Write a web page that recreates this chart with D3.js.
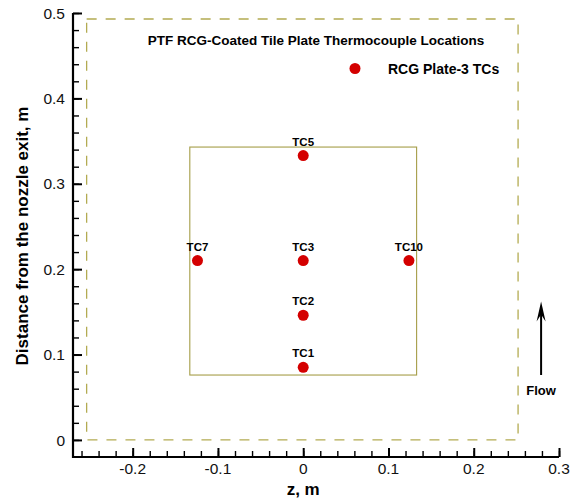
<!DOCTYPE html>
<html>
<head>
<meta charset="utf-8">
<script src="https://cdn.jsdelivr.net/npm/d3@7"></script>
<style>
  body { margin: 0; background: #fff; }
  svg { font-family: "Liberation Sans", Arial, Helvetica, sans-serif; }
</style>
</head>
<body>
<svg id="chart" width="580" height="499"></svg>
<script>
// thermocouple locations (z, distance from nozzle exit), metres
const tcNames = ["TC1", "TC2", "TC3", "TC5", "TC7", "TC10"];
const tcZ = [0, 0, 0, 0, -0.124, 0.124];
const tcY = [0.085, 0.146, 0.21, 0.333, 0.21, 0.21];

// plate outline and outer (dashed) test section boundary
const plateZ = [-0.133, 0.133];
const plateY = [0.076, 0.343];
const outerZ = [-0.254, 0.252];
const outerY = [0, 0.493];

// flow arrow
const flowZ = 0.279;
const flowY = [0.076, 0.162];

const xTicks = [-0.2, -0.1, 0, 0.1, 0.2, 0.3];
const yTicks = [0, 0.1, 0.2, 0.3, 0.4, 0.5];

const svg = d3.select("#chart");

const x = d3.scaleLinear().domain([-0.27, 0.3]).range([73, 559]);
const y = d3.scaleLinear().domain([-0.02, 0.5]).range([457, 13]);

const olive = "#b3ab52";

// outer dashed boundary
svg.append("rect")
  .attr("x", x(outerZ[0]))
  .attr("y", y(outerY[1]))
  .attr("width", x(outerZ[1]) - x(outerZ[0]))
  .attr("height", y(outerY[0]) - y(outerY[1]))
  .attr("fill", "none")
  .attr("stroke", olive)
  .attr("stroke-width", 1.3)
  .attr("stroke-dasharray", "10,9");

// plate
svg.append("rect")
  .attr("x", x(plateZ[0]))
  .attr("y", y(plateY[1]))
  .attr("width", x(plateZ[1]) - x(plateZ[0]))
  .attr("height", y(plateY[0]) - y(plateY[1]))
  .attr("fill", "none")
  .attr("stroke", "#a59d48")
  .attr("stroke-width", 1.1);

// axes
const xMinor = d3.range(-0.26, 0.301, 0.02).map(d => +d.toFixed(2));
const yMinor = d3.range(0, 0.501, 0.02).map(d => +d.toFixed(2));

const xAxis = svg.append("g").attr("transform", `translate(0,${y(-0.02)})`);
xAxis.call(d3.axisTop(x).tickValues(xMinor).tickSize(6).tickFormat(""))
  .call(g => g.select(".domain").remove());
xAxis.append("g")
  .call(d3.axisTop(x).tickValues(xTicks).tickSize(9).tickFormat(""))
  .call(g => g.select(".domain").remove())
  .selectAll("line").attr("stroke-width", 2);
xAxis.selectAll("line").attr("stroke", "#000");
xAxis.selectAll("line").filter(function () { return !this.getAttribute("stroke-width"); })
  .attr("stroke-width", 1.4);
xAxis.selectAll(".tick-label")
  .data(xTicks).enter().append("text")
  .attr("x", d => x(d))
  .attr("y", 17)
  .attr("text-anchor", "middle")
  .attr("font-size", 15.5)
  .attr("fill", "#111")
  .text(d => String(d));

const yAxis = svg.append("g").attr("transform", `translate(${x(-0.27)},0)`);
yAxis.call(d3.axisRight(y).tickValues(yMinor).tickSize(6).tickFormat(""))
  .call(g => g.select(".domain").remove());
yAxis.append("g")
  .call(d3.axisRight(y).tickValues(yTicks).tickSize(9).tickFormat(""))
  .call(g => g.select(".domain").remove())
  .selectAll("line").attr("stroke-width", 2);
yAxis.selectAll("line").attr("stroke", "#000");
yAxis.selectAll("line").filter(function () { return !this.getAttribute("stroke-width"); })
  .attr("stroke-width", 1.4);
yAxis.selectAll(".tick-label")
  .data(yTicks).enter().append("text")
  .attr("x", -8)
  .attr("y", d => y(d))
  .attr("dy", "0.36em")
  .attr("text-anchor", "end")
  .attr("font-size", 15.5)
  .attr("fill", "#111")
  .text(d => String(d));

// axis lines
svg.append("path")
  .attr("d", `M${x(-0.27)},${y(0.5)}V${y(-0.02)}H${x(0.3)}`)
  .attr("fill", "none")
  .attr("stroke", "#000")
  .attr("stroke-width", 2.2);

// axis titles
svg.append("text")
  .attr("x", x(0))
  .attr("y", 495)
  .attr("text-anchor", "middle")
  .attr("font-size", 17)
  .attr("font-weight", "bold")
  .text("z, m");

svg.append("text")
  .attr("transform", `translate(28,${236}) rotate(-90)`)
  .attr("text-anchor", "middle")
  .attr("font-size", 17)
  .attr("font-weight", "bold")
  .text("Distance from the nozzle exit, m");

// thermocouples
const tcs = tcNames.map((n, i) => ({ name: n, z: tcZ[i], y: tcY[i] }));

svg.selectAll("circle.tc")
  .data(tcs).enter().append("circle")
  .attr("class", "tc")
  .attr("cx", d => x(d.z))
  .attr("cy", d => y(d.y))
  .attr("r", 5.5)
  .attr("fill", "#d40000");

svg.selectAll("text.tc")
  .data(tcs).enter().append("text")
  .attr("class", "tc")
  .attr("x", d => x(d.z))
  .attr("y", d => y(d.y) - 10)
  .attr("text-anchor", "middle")
  .attr("font-size", 11.5)
  .attr("font-weight", "bold")
  .text(d => d.name);

// title and legend
svg.append("text")
  .attr("x", 316)
  .attr("y", 45)
  .attr("text-anchor", "middle")
  .attr("font-size", 13.5)
  .attr("font-weight", "bold")
  .text("PTF RCG-Coated Tile Plate Thermocouple Locations");

svg.append("circle")
  .attr("cx", 355)
  .attr("cy", 68.5)
  .attr("r", 5.5)
  .attr("fill", "#d40000");

svg.append("text")
  .attr("x", 388)
  .attr("y", 73.5)
  .attr("font-size", 14)
  .attr("font-weight", "bold")
  .text("RCG Plate-3 TCs");

// flow arrow
const ax = x(flowZ);
const arrowTop = y(flowY[1]);
svg.append("line")
  .attr("x1", ax).attr("x2", ax)
  .attr("y1", y(flowY[0])).attr("y2", arrowTop + 6)
  .attr("stroke", "#000")
  .attr("stroke-width", 2);
svg.append("path")
  .attr("d", `M${ax},${arrowTop} L${ax + 4.5},${arrowTop + 20} L${ax},${arrowTop + 13} L${ax - 4.5},${arrowTop + 20} Z`)
  .attr("fill", "#000");

svg.append("text")
  .attr("x", ax)
  .attr("y", y(flowY[0]) + 20)
  .attr("text-anchor", "middle")
  .attr("font-size", 13)
  .attr("font-weight", "bold")
  .text("Flow");
</script>
</body>
</html>
